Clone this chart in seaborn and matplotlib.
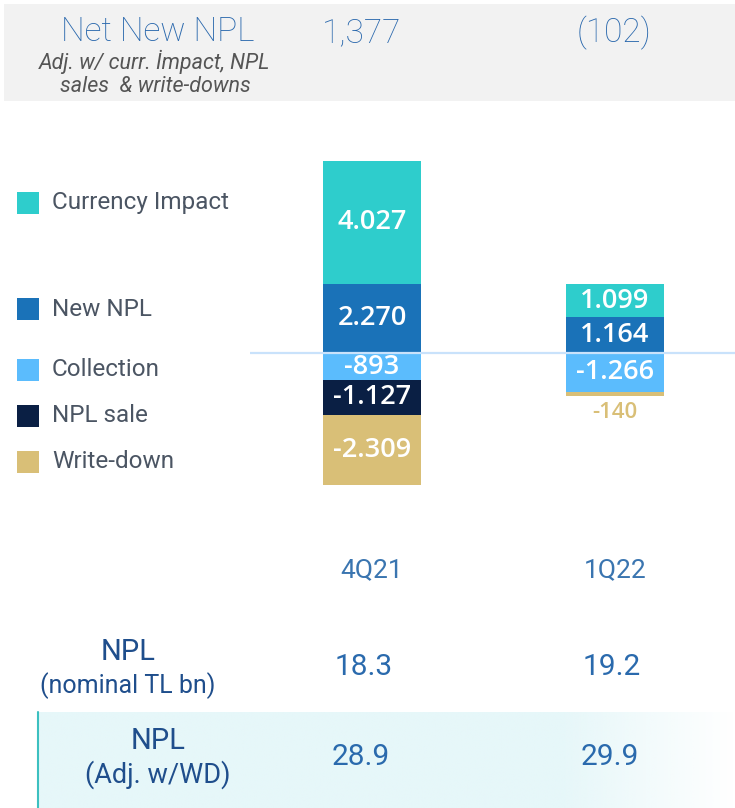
import numpy as np
import pandas as pd
import matplotlib
matplotlib.use("Agg")
import matplotlib.pyplot as plt
import seaborn as sns
from matplotlib.patches import Rectangle

# ---------------- data ----------------
periods = ["4Q21", "1Q22"]
currency_impact = [4027, 1099]
new_npl = [2270, 1164]
collection = [-893, -1266]
npl_sale = [-1127, 0]
write_down = [-2309, -140]
net_new_npl_labels = ["1,377", "(102)"]
npl_nominal = [18.3, 19.2]
npl_adj_wd = [28.9, 29.9]
series_names = ["Currency Impact", "New NPL", "Collection", "NPL sale", "Write-down"]
series_colors = ["#2ECDCC", "#1A72B8", "#5BBCFD", "#0A1F44", "#D9BF77"]

sns.set_theme(style="white")
plt.rcParams["font.family"] = ["Roboto", "DejaVu Sans"]

W, H = 735, 808
fig = plt.figure(figsize=(W / 100, H / 100), dpi=100)

# overlay axes in pixel coordinates (for layout / table text)
ov = fig.add_axes([0, 0, 1, 1], zorder=0)
ov.set_xlim(0, W)
ov.set_ylim(H, 0)
ov.axis("off")

# bar axes
ax_l, ax_r, ax_t, ax_b = 250, 735, 140, 525
ax = fig.add_axes([ax_l / W, 1 - ax_b / H, (ax_r - ax_l) / W, (ax_b - ax_t) / H], zorder=2)
ax.patch.set_alpha(0)

df = pd.DataFrame({
    "period": periods,
    "currency": currency_impact,
    "new": new_npl,
    "collection": collection,
    "sale": npl_sale,
    "wd": write_down,
})
df["pos_top"] = df["currency"] + df["new"]
df["neg_sale"] = df["collection"] + df["sale"]
df["neg_total"] = df["neg_sale"] + df["wd"]

bw = 0.4
layers = [
    ("pos_top", series_colors[0]),
    ("new", series_colors[1]),
    ("neg_total", series_colors[4]),
    ("neg_sale", series_colors[3]),
    ("collection", series_colors[2]),
]
for col, c in layers:
    sns.barplot(data=df, x="period", y=col, order=periods, color=c,
                width=bw, linewidth=0, saturation=1, ax=ax, errorbar=None)

px_per_unit = 30.5 / 1000
zero_px = 353
ax.set_ylim(-(ax_b - zero_px) / px_per_unit, (zero_px - ax_t) / px_per_unit)
xc0, xc1 = 372, 615
unit = xc1 - xc0
ax.set_xlim(-(xc0 - ax_l) / unit, 1 + (ax_r - xc1) / unit)
ax.axhline(0, color="#C9E2FB", lw=1.6, zorder=5)

def fmt(v):
    return f"{v:,}".replace(",", ".")

lab_kw = dict(ha="center", va="center", fontsize=19.5, weight=600,
              family=["Open Sans", "DejaVu Sans"], zorder=6)
for i, row in df.iterrows():
    segs = [
        (row["currency"], row["new"] + row["currency"] / 2),
        (row["new"], row["new"] / 2),
        (row["collection"], row["collection"] / 2),
        (row["sale"], row["collection"] + row["sale"] / 2),
        (row["wd"], row["neg_sale"] + row["wd"] / 2),
    ]
    for k, (v, yc) in enumerate(segs):
        if v == 0:
            continue
        if abs(v) < 300:
            ax.text(i, row["neg_total"] - 17 / px_per_unit, fmt(v),
                    color=series_colors[k], **{**lab_kw, "fontsize": 16})
        else:
            ax.text(i, yc, fmt(v), color="white", **lab_kw)

ax.set_xlabel("")
ax.set_ylabel("")
ax.set_yticks([])
ax.set_xticks(range(len(periods)))
ax.set_xticklabels(periods)
ax.tick_params(axis="x", length=0, pad=24, labelsize=19, labelcolor="#3A75B0")
for s in ax.spines.values():
    s.set_visible(False)

# ---------------- header ----------------
ov.add_patch(Rectangle((4, 4), W - 4, 97, color="#F2F2F2", lw=0))
hdr_color = "#2A68AD"
ov.text(158, 32, "Net New NPL", ha="center", va="center", fontsize=24, weight="light", color=hdr_color)
ov.text(155, 62, "Adj. w/ curr. İmpact, NPL", ha="center", va="center", fontsize=15.5,
        style="italic", color="#555555")
ov.text(155, 87, "sales  & write-downs", ha="center", va="center", fontsize=15.5,
        style="italic", color="#555555")
for x, t in zip([362, 614], net_new_npl_labels):
    ov.text(x, 33, t, ha="center", va="center", fontsize=24, weight="light", color=hdr_color)

# ---------------- legend ----------------
leg_y = [203, 309, 370, 416, 462]
for y, name, c in zip(leg_y, series_names, series_colors):
    ov.add_patch(Rectangle((17, y - 11), 22, 22, color=c, lw=0))
    ov.text(52, y, name, ha="left", va="center", fontsize=17.5, color="#4B5563")

# ---------------- bottom table ----------------
tcol = "#1F4E8C"
vcol = "#2A6AAD"
ov.text(128, 652, "NPL", ha="center", va="center", fontsize=21, color=tcol)
ov.text(128, 686, "(nominal TL bn)", ha="center", va="center", fontsize=18, color=tcol)
for x, v in zip([364, 612], npl_nominal):
    ov.text(x, 667, f"{v:.1f}", ha="center", va="center", fontsize=21.5, color=vcol)

# band with gradient
band = np.ones((1, 400, 4))
band[..., 0] = 0xE6 / 255
band[..., 1] = 0xF7 / 255
band[..., 2] = 0xF9 / 255
xs = np.linspace(38, W, 400)
alpha = np.clip((W - xs) / (W - 560), 0, 1)
band[0, :, 3] = alpha
ov.imshow(band, extent=(38, W, H, 712), aspect="auto", zorder=0.5, interpolation="bilinear")
ov.plot([38, 38], [712, H], color="#3CC0C0", lw=1.5, zorder=1)
ov.set_xlim(0, W)
ov.set_ylim(H, 0)
ov.text(158, 741, "NPL", ha="center", va="center", fontsize=21, color=tcol, zorder=2)
ov.text(158, 775, "(Adj. w/WD)", ha="center", va="center", fontsize=19.5, color=tcol, zorder=2)
for x, v in zip([361, 610], npl_adj_wd):
    ov.text(x, 757, f"{v:.1f}", ha="center", va="center", fontsize=21.5, color=vcol, zorder=2)

fig.savefig("out.png", dpi=100)
